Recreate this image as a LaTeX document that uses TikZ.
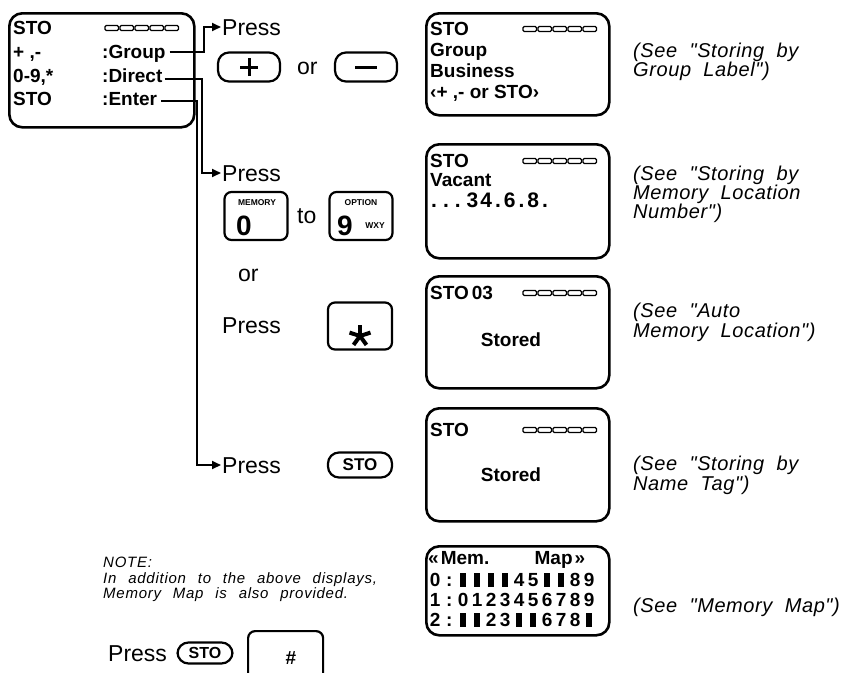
\documentclass[tikz,border=0pt]{standalone}
\usepackage{fontspec}
\setmainfont{Liberation Sans}
\newfontfamily\notefont{Liberation Sans}[LetterSpace=3,WordSpace=2]
\newfontfamily\smallnote{Liberation Sans}[LetterSpace=5,WordSpace=2.4]
\usetikzlibrary{arrows.meta}
\newcommand\mcell[1]{\makebox[14pt]{#1}}
\newcommand\mblk{\makebox[14pt]{\rule[-0.5pt]{5.5pt}{14.5pt}}}
\begin{document}
\begin{tikzpicture}[x=1pt,y=-1pt,
  disp/.style={draw, line width=2.6pt, rounded corners=13pt, minimum width=183pt, anchor=north west, inner sep=0pt},
  dtxt/.style={anchor=west, inner sep=0pt, text height=13.6pt, text depth=0pt, font=\fontsize{19}{19}\selectfont\bfseries},
  lbl/.style={anchor=west, inner sep=0pt, text height=16.5pt, text depth=0pt, font=\fontsize{23}{23}\selectfont},
  see/.style={anchor=base west, inner sep=0pt, font=\notefont\itshape\fontsize{20}{20}\selectfont},
  nt/.style={anchor=base west, inner sep=0pt, font=\smallnote\itshape\fontsize{15}{15}\selectfont},
  arr/.style={line width=2pt, -{Triangle[length=9pt,width=8pt]}},
  pill/.style={draw, line width=2.2pt, rounded corners=11pt, inner sep=0pt},
  keybox/.style={draw, line width=2.2pt, rounded corners=7pt, minimum width=63pt, minimum height=48pt, inner sep=0pt},
  tiny/.style={inner sep=0pt, font=\bfseries\fontsize{8.5}{8.5}\selectfont},
  big/.style={anchor=base, inner sep=0pt, font=\bfseries\fontsize{28}{28}\selectfont},
  segbar/.pic={\foreach \i in {0,...,4}{\draw[line width=1.3pt, rounded corners=1.2pt] (\i*15,-2.5) rectangle ++(13.5,5);}},
]
\fill[white] (0,0) rectangle (850,672);
\useasboundingbox (0,0) rectangle (850,672);

% ---------- display 1 (menu)
\node[disp, minimum width=185pt, minimum height=114pt] (d1) at (8,12) {};
\node[dtxt] (d1a) at (13,28) {STO};
\pic at (105,28) {segbar};
\node[dtxt] (d1b) at (13,52) {+ ,-};
\node[dtxt] (grp) at (102,52) {:Group};
\node[dtxt] (d1c) at (13,76) {0-9,*};
\node[dtxt] (dir) at (102,76) {:Direct};
\node[dtxt] (d1d) at (13,99) {STO};
\node[dtxt] (ent) at (102,99) {:Enter};

% ---------- left column: presses
\node[lbl] (p1) at (222,27) {Press};
\node[pill, minimum width=62pt, minimum height=29pt] (kplus) at (249,67) {};
\draw[line width=3pt] ([xshift=-9pt]kplus.center) -- ([xshift=9pt]kplus.center);
\draw[line width=3pt] ([yshift=-9pt]kplus.center) -- ([yshift=9pt]kplus.center);
\node[lbl] (or1) at (297,66) {or};
\node[pill, minimum width=62pt, minimum height=29pt] (kminus) at (366,67) {};
\draw[line width=3pt] ([xshift=-11pt]kminus.center) -- ([xshift=11pt]kminus.center);

\node[lbl] (p2) at (222,173) {Press};
\node[keybox] (k0) at (256,216) {};
\node[tiny] (k0t) at (257,203) {MEMORY};
\node[big] (k0d) at (244,235) {0};
\node[lbl] (to) at (297,215) {to};
\node[keybox] (k9) at (361,216) {};
\node[tiny] (k9t) at (361,203) {OPTION};
\node[big] (k9d) at (345,235) {9};
\node[tiny, anchor=base] (k9w) at (375,228) {WXY};

\node[lbl] (or2) at (238,273) {or};

\node[lbl] (p3) at (222,325) {Press};
\node[keybox, minimum width=64pt, minimum height=47pt] (kst) at (360,326) {};
\foreach \a in {-90,-18,-162,54,126}{\draw[line width=4pt] (360,336) -- ++(\a:11);}

\node[lbl] (p5) at (222,465) {Press};
\node[pill, minimum width=64pt, minimum height=25pt, font=\bfseries\fontsize{17}{17}\selectfont] (ksto) at (360,465) {STO};

% ---------- connectors
\draw[arr] ([xshift=4pt]grp.east) -| ([xshift=-18pt]p1.west) -- ([xshift=-1pt]p1.west);
\draw[arr] ([xshift=2pt,yshift=-3pt]dir.east) -| ([xshift=-20pt]p2.west) -- ([xshift=-1pt]p2.west);
\draw[arr] ([xshift=4pt,yshift=-2pt]ent.east) -| ([xshift=-25pt]p5.west) -- ([xshift=-1pt]p5.west);

% ---------- display 2
\node[disp, minimum height=102pt] (d2) at (425,12) {};
\node[dtxt] (d2a) at (430,29) {STO};
\pic at (523,29) {segbar};
\node[dtxt] (d2b) at (430,50) {Group};
\node[dtxt] (d2c) at (430,71) {Business};
\node[dtxt] (d2d) at (430,92) {‹+ ,- or STO›};
\node[see] (s2a) at (633,57) {(See "Storing by};
\node[see] (s2b) at (633,76) {Group Label")};

% ---------- display 3
\node[disp, minimum height=114pt] (d3) at (425,143) {};
\node[dtxt] (d3a) at (430,161) {STO};
\pic at (523,161) {segbar};
\node[dtxt] (d3b) at (430,180) {Vacant};
\node[dtxt, font=\fontsize{21}{21}\selectfont\bfseries] (d3c) at (431,201) {.\kern6pt.\kern6pt.\kern6pt3\kern2pt4\kern3pt.\kern3pt6\kern3pt.\kern3pt8\kern3pt.};
\node[see] (s3a) at (633,180) {(See "Storing by};
\node[see] (s3b) at (633,199) {Memory Location};
\node[see] (s3c) at (633,218) {Number")};

% ---------- display 4
\node[disp, minimum height=112pt] (d4) at (425,275) {};
\node[dtxt] (d4a) at (430,293) {STO\kern3pt 03};
\pic at (523,293) {segbar};
\node[dtxt, anchor=center] (d4b) at (511,340) {Stored};
\node[see] (s4a) at (633,317) {(See "Auto};
\node[see] (s4b) at (633,337) {Memory Location")};

% ---------- display 5
\node[disp, minimum height=113pt] (d5) at (425,407) {};
\node[dtxt] (d5a) at (430,430) {STO};
\pic at (523,430) {segbar};
\node[dtxt, anchor=center] (d5b) at (511,475) {Stored};
\node[see] (s5a) at (633,470) {(See "Storing by};
\node[see] (s5b) at (633,490) {Name Tag")};

% ---------- memory map
\node[disp, minimum height=89pt] (dm) at (425,545) {};
\node[dtxt] (m0) at (428,558) {\makebox[157pt][s]{«\kern2pt Mem.\hfill Map\kern2pt»}};
\node[dtxt] (m1) at (428,580) {\mcell{0}\mcell{:}\mblk\mblk\mblk\mblk\mcell{4}\mcell{5}\mblk\mblk\mcell{8}\mcell{9}};
\node[dtxt] (m2) at (428,600) {\mcell{1}\mcell{:}\mcell{0}\mcell{1}\mcell{2}\mcell{3}\mcell{4}\mcell{5}\mcell{6}\mcell{7}\mcell{8}\mcell{9}};
\node[dtxt] (m3) at (428,620) {\mcell{2}\mcell{:}\mblk\mblk\mcell{2}\mcell{3}\mblk\mblk\mcell{6}\mcell{7}\mcell{8}\mblk};
\node[see] (s6) at (633,612) {(See "Memory Map")};

% ---------- note
\node[nt] (n1) at (103,567) {NOTE:};
\node[nt] (n2) at (103,583) {In addition to the above displays,};
\node[nt] (n3) at (103,598) {Memory Map is also provided.};
\node[lbl] (p6) at (108,653) {Press};
\node[pill, minimum width=55pt, minimum height=21pt, font=\bfseries\fontsize{16}{16}\selectfont] (ksto2) at (205,653) {STO};
\node[keybox, minimum width=75pt, minimum height=60pt, anchor=north west] (khash) at (247,630) {};
\node[inner sep=0pt, font=\bfseries\fontsize{19}{19}\selectfont] (hash) at (291,658) {\#};
\end{tikzpicture}
\end{document}
